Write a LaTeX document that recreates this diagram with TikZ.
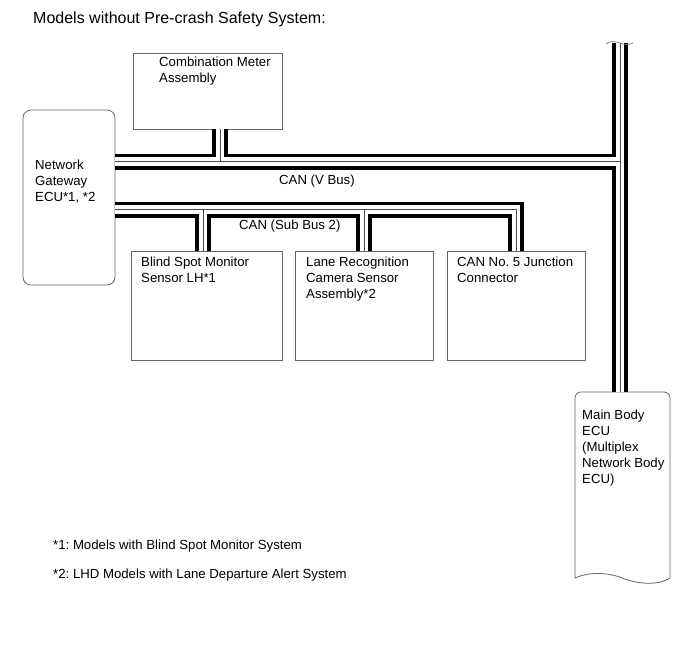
\documentclass[tikz,border=0pt]{standalone}
\usepackage{fontspec}
\setmainfont{Liberation Sans}
\usetikzlibrary{positioning,calc}
\frenchspacing

\begin{document}
\begin{tikzpicture}[
  x=1pt, y=-1pt,
  txt/.style={font=\fontsize{13.2}{16}\selectfont, align=left, inner sep=0pt, anchor=north west},
  unit/.style={rectangle, draw=black!60, line width=0.8pt, fill=white, inner sep=0pt, outer sep=0pt, anchor=north west},
  gateway/.style={unit, rounded corners=8pt},
  busout/.style={line width=16pt, black, line join=miter},
  busin/.style={line width=8.5pt, white, line join=miter},
  buscore/.style={line width=0.9pt, black!70, line join=miter},
  brk/.style={draw=black!55, line width=0.7pt}
]
\useasboundingbox (0,0) rectangle (690,659);

% Title
\node[txt, anchor=west, font=\fontsize{16}{19}\selectfont] (title) at (33,19) {Models without Pre-crash Safety System:};

% ECUs
\node[unit, minimum width=149pt, minimum height=76pt] (meter) at (133,53) {};
\node[gateway, minimum width=92pt, minimum height=175pt] (gw) at (23,110) {};
\node[unit, minimum width=151pt, minimum height=109pt] (blind) at (131,251) {};
\node[unit, right=13pt of blind, minimum width=138pt, minimum height=109pt] (lane) {};
\node[unit, right=14pt of lane, minimum width=138pt, minimum height=109pt] (junc) {};
\node[inner sep=0pt, outer sep=0pt, anchor=north west, minimum width=95pt, minimum height=186pt] (mb) at (575,392) {};
\draw[draw=black!60, line width=0.8pt, fill=white] (mb.south west) -- ($(mb.north west)+(0,6)$)
  arc[start angle=180, end angle=270, radius=6] -- ($(mb.north east)+(-6,0)$)
  arc[start angle=270, end angle=360, radius=6] -- (mb.south east)
  .. controls +(-10,7) and +(18,7) .. ++(-48,0)
  .. controls +(-17,-7) and +(10,-5) .. (mb.south west);

% Texts
\node[txt] (metertxt) at ([shift={(26,4)}]meter.north west) {Combination Meter\\Assembly};
\node[txt] (gwtxt) at ([shift={(12,50)}]gw.north west) {Network\\Gateway\\ECU*1, *2};
\node[txt] (blindtxt) at ([shift={(10,6)}]blind.north west) {Blind Spot Monitor\\Sensor LH*1};
\node[txt] (lanetxt) at ([shift={(11,6)}]lane.north west) {Lane Recognition\\Camera Sensor\\Assembly*2};
\node[txt] (junctxt) at ([shift={(10,6)}]junc.north west) {CAN No. 5 Junction\\Connector};
\node[txt] (mbtxt) at ([shift={(7,18)}]mb.north west) {Main Body\\ECU\\(Multiplex\\Network Body\\ECU)};

% Buses
\coordinate (vbus) at (0,161.5);
\coordinate (subbus) at (0,209.5);
\coordinate (trunk) at (620,43);
\foreach \layer in {busout,busin,buscore}{
  \draw[\layer] (gw.east |- vbus) -- (trunk |- vbus);
  \draw[\layer] (trunk) -- (trunk |- mb.north);
  \draw[\layer] ([xshift=12.5pt]meter.south) -- ([xshift=12.5pt]meter.south |- vbus);
  \draw[\layer] (gw.east |- subbus) -| (junc.north);
  \draw[\layer] ([xshift=-3.5pt]blind.north) -- ([xshift=-3.5pt]blind.north |- subbus);
  \draw[\layer] (lane.north) -- (lane.north |- subbus);
}
\draw[brk] (trunk) ++(-14,1) .. controls +(4,-4) and +(-4,-1) .. ++(14,-1)
  .. controls +(4,2) and +(-4,2) .. ++(13,0);

% Bus names
\node[txt, anchor=west] (vbuslbl) at (279,181) {CAN (V Bus)};
\node[txt, anchor=west] (subbuslbl) at (239,226) {CAN (Sub Bus 2)};

% Notes
\node[txt, anchor=west] (note1) at (53,546) {*1: Models with Blind Spot Monitor System};
\node[txt, anchor=west] (note2) at (53,575) {*2: LHD Models with Lane Departure Alert System};

\end{tikzpicture}
\end{document}
